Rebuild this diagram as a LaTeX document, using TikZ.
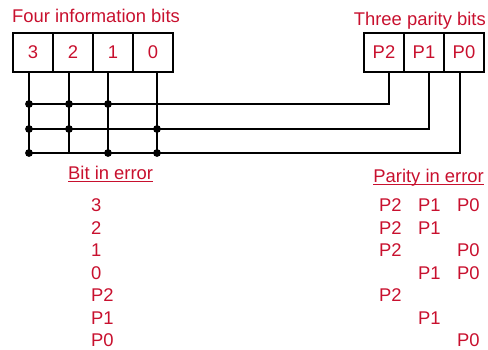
\documentclass[tikz,border=0pt]{standalone}
\usepackage{fontspec}
\setmainfont{Liberation Sans}
\usetikzlibrary{positioning}
\definecolor{bitred}{RGB}{200,16,46}
\newcommand\ulined[1]{\setbox0\hbox{#1}\rlap{\rule[-3pt]{\wd0}{1.1pt}}\box0}

\begin{document}
\begin{tikzpicture}[
  x=1pt, y=-1pt,
  cell/.style={rectangle, draw, line width=1.1pt, minimum width=40pt, minimum height=39pt, inner sep=0pt, outer sep=0pt, text=bitred},
  caption/.style={text=bitred, inner sep=0pt},
  wire/.style={line width=1.2pt},
  node distance=0pt,
  font=\fontsize{18.4}{22}\selectfont
]
\useasboundingbox (0,0) rectangle (488,349);

% data word and check bits
\node[cell] (b3) at (33,52.5) {3};
\node[cell, right=of b3] (b2) {2};
\node[cell, right=of b2] (b1) {1};
\node[cell, right=of b1] (b0) {0};
\node[cell] (p2) at (384,52.5) {P2};
\node[cell, right=of p2] (p1) {P1};
\node[cell, right=of p1] (p0) {P0};

\node[caption, anchor=base west] (infotitle) at (12,22) {Four information bits};
\node[caption, anchor=base east] (paritytitle) at (486,25) {Three parity bits};

% taps under the cells
\coordinate (t3) at ([xshift=-4pt]b3.south);
\coordinate (t2) at ([xshift=-4pt]b2.south);
\coordinate (t1) at ([xshift=-5pt]b1.south);
\coordinate (t0) at ([xshift=4pt]b0.south);
\coordinate (tp2) at ([xshift=5pt]p2.south);
\coordinate (tp1) at ([xshift=5pt]p1.south);
\coordinate (tp0) at ([xshift=-4pt]p0.south);

% one row per parity bit
\coordinate (rowA) at (29,104);
\coordinate (rowB) at (29,129);
\coordinate (rowC) at (29,153);

\foreach \t in {t3,t2,t1,t0}
  \draw[wire] (\t) -- (\t |- rowC);
\draw[wire] (tp2) |- (rowA);
\draw[wire] (tp1) |- (rowB);
\draw[wire] (tp0) |- (rowC);

\foreach \t/\r in {t3/rowA, t2/rowA, t1/rowA, t3/rowB, t2/rowB, t0/rowB, t3/rowC, t1/rowC, t0/rowC}
  \fill (\t |- \r) circle (3.9pt);

% syndrome table
\node[caption, anchor=base west] (biterr) at (68,179) {\ulined{Bit in error}};
\node[caption, anchor=base east] (parerr) at (484,182) {\ulined{Parity in error}};

\foreach \name [count=\i] in {3,2,1,0,P2,P1,P0}
  \node[caption, anchor=base west] (bit\i) at (91,189+22.5*\i) {\name};

\foreach \row/\cols in {1/{2,1,0}, 2/{2,1}, 3/{2,0}, 4/{1,0}, 5/{2}, 6/{1}, 7/{0}}
  \foreach \c in \cols
    \node[caption, anchor=base west] (par\row\c) at ({379+(2-\c)*39},189+22.5*\row) {P\c};
\end{tikzpicture}
\end{document}
